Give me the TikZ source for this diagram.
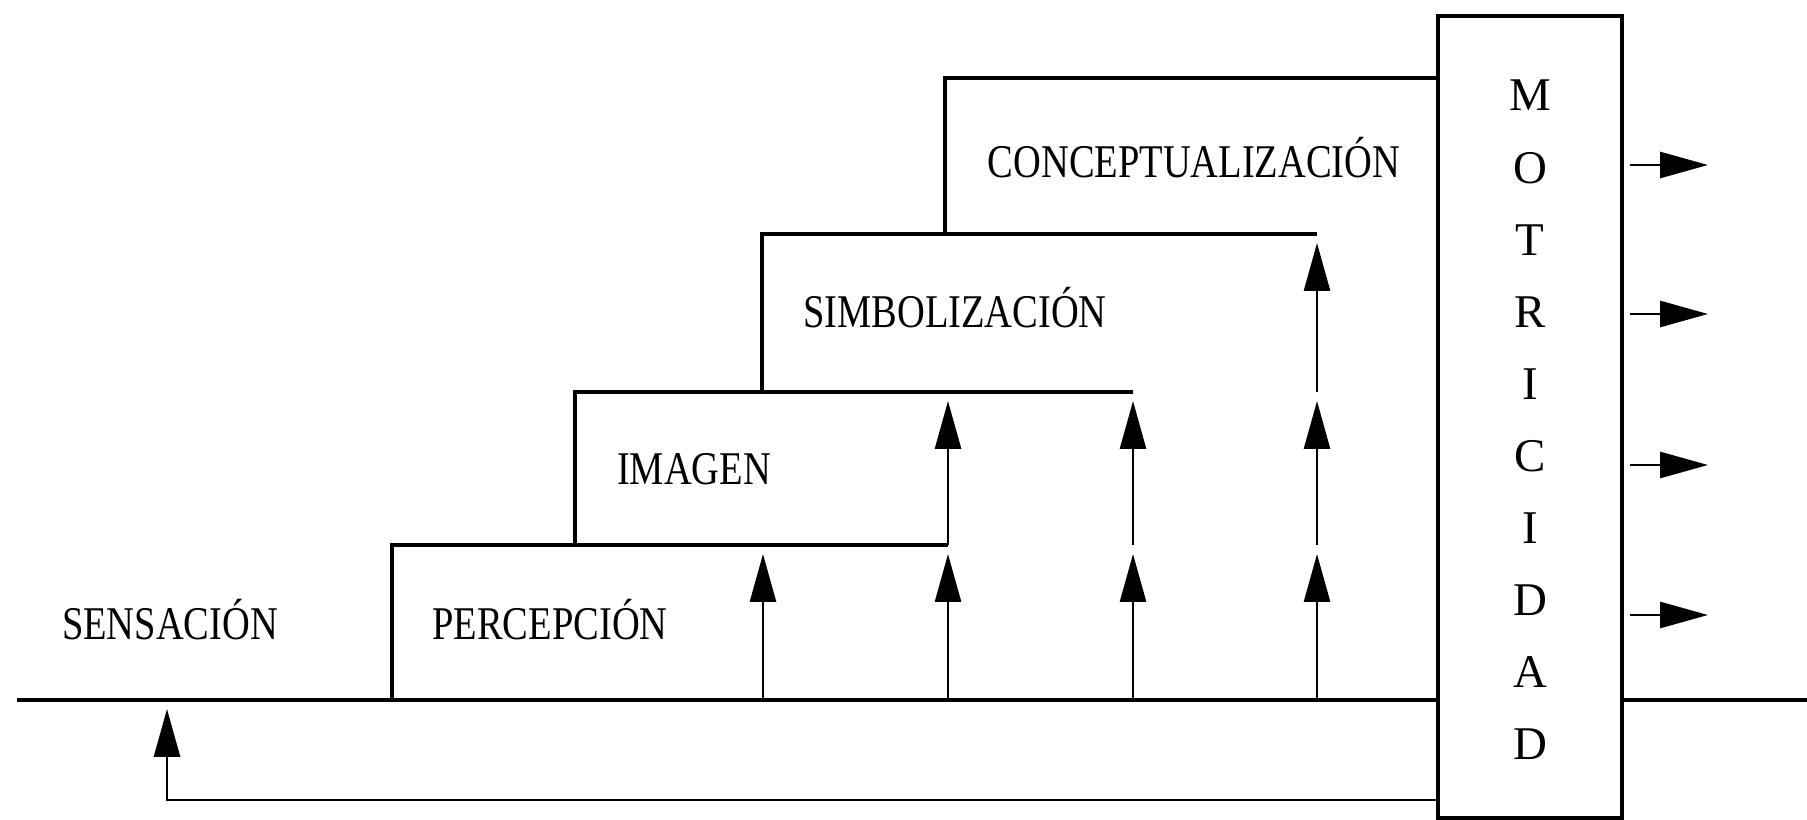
\documentclass[tikz,border=0pt]{standalone}
\usepackage{fontspec}
\setmainfont{Liberation Serif}
\usetikzlibrary{arrows.meta,calc}
\begin{document}
\begin{tikzpicture}[x=0.02cm,y=-0.02cm,
  line/.style={line width=2pt},
  arr/.style={line width=1.6pt,-{Triangle[length=0.96cm,width=0.52cm]},shorten >=0.18cm},
  lbl/.style={font=\fontsize{26.7}{32}\selectfont, inner sep=0, anchor=base},
  letter/.style={font=\fontsize{26.7}{32}\selectfont, inner sep=0, anchor=base}]
\useasboundingbox (0,0) rectangle (1807,820);

% MOTRICIDAD box
\node[draw, line width=2pt, fill=white, minimum width=3.68cm, minimum height=16.04cm, inner sep=0] (mot) at (1530,417) {};
\foreach \L [count=\i from 0] in {M,O,T,R,I,C,I,D,A,D}
  \node[letter] (let\i) at ({1530},{111+72.1*\i}) {\L};

% baseline
\coordinate (b0) at (17,700);
\coordinate (bR) at (1807,700);
\draw[line] (b0) -- (mot.west |- b0);
\draw[line] (mot.east |- b0) -- (bR);

% steps
\coordinate (p1b) at (392,700); \coordinate (p1t) at (392,545); \coordinate (p1e) at (948,545);
\coordinate (p2t) at (575,392); \coordinate (p2e) at (1133,392);
\coordinate (p3t) at (762,234); \coordinate (p3e) at (1317,234);
\coordinate (p4t) at (945,78);
\draw[line] (p1b) -- (p1t) -- (p1e);
\draw[line] (p2t |- p1t) -- (p2t) -- (p2e);
\draw[line] (p3t |- p2t) -- (p3t) -- (p3e);
\draw[line] (p4t |- p3t) -- (p4t) -- (mot.west |- p4t);

% labels
\node[lbl] (sens) at (170,639) {\scalebox{0.82}[1]{SENSACIÓN}};
\node[lbl] (perc) at (550,639) {\scalebox{0.82}[1]{PERCEPCIÓN}};
\node[lbl] (imag) at (694,484) {\scalebox{0.82}[1]{IMAGEN}};
\node[lbl] (simb) at (955,328) {\scalebox{0.82}[1]{SIMBOLIZACIÓN}};
\node[lbl] (conc) at (1194,178) {\scalebox{0.82}[1]{CONCEPTUALIZACIÓN}};

% vertical arrows
\coordinate (c1) at (763,700);
\coordinate (c2) at (948,700);
\coordinate (c3) at (1133,700);
\coordinate (c4) at (1317,700);
\draw[arr] (c1) -- (c1 |- p1t);
\draw[arr] (c2) -- (c2 |- p1t);
\draw[arr] (c2 |- p1t) -- (c2 |- p2t);
\draw[arr] (c3) -- (c3 |- p1t);
\draw[arr] (c3 |- p1t) -- (c3 |- p2t);
\draw[arr] (c4) -- (c4 |- p1t);
\draw[arr] (c4 |- p1t) -- (c4 |- p2t);
\draw[arr] (c4 |- p2t) -- (c4 |- p3t);

% feedback
\coordinate (fb) at (167,800);
\draw[arr] (mot.west |- fb) -- (fb) -- (fb |- b0);

% right arrows
\foreach \y [count=\k] in {165,314,465,615} {
  \coordinate (r\k) at (1708,\y);
  \draw[arr, shorten >=0pt] ($(mot.east |- r\k)+(6,0)$) -- (r\k);
}
\end{tikzpicture}
\end{document}
